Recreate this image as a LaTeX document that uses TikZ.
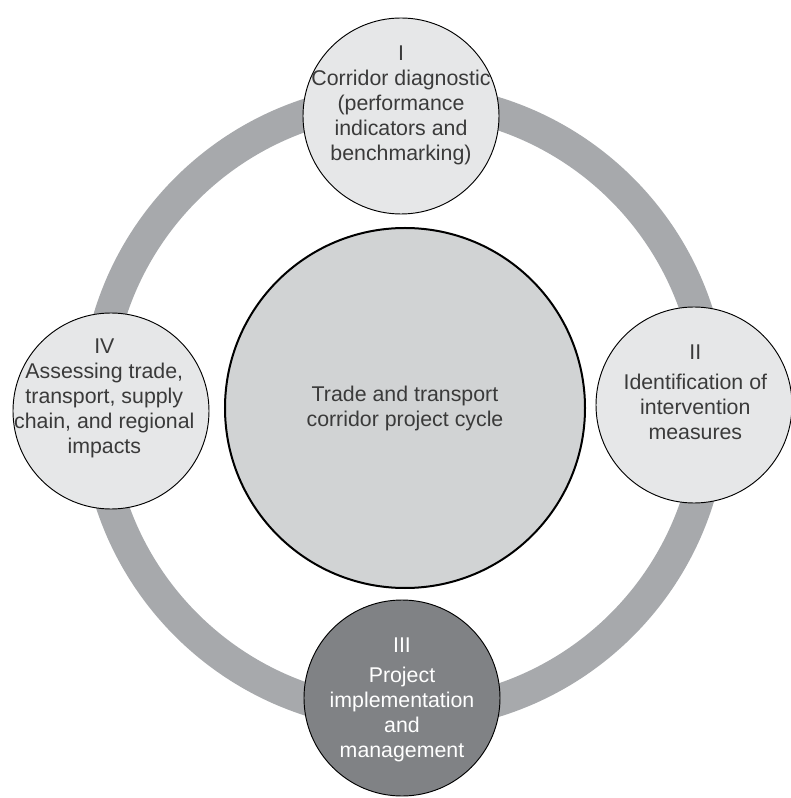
\documentclass[tikz,border=0pt]{standalone}
\usepackage{fontspec}
\setmainfont{Liberation Sans}
\usetikzlibrary{positioning}
\definecolor{ringgray}{HTML}{A7A9AC}
\definecolor{hubgray}{HTML}{D1D3D4}
\definecolor{stagegray}{HTML}{E6E7E8}
\definecolor{darkstage}{HTML}{808285}
\definecolor{inkgray}{HTML}{3A3A3A}

\begin{document}
\begin{tikzpicture}[x=0.75pt, y=0.75pt]
\tikzstyle{stage}=[circle, minimum size = 147pt, inner sep = 0pt, draw = black, line width = 0.7pt, fill = stagegray]
\tikzstyle{words}=[align = center, inner sep = 0pt, text = inkgray, font = \fontsize{16}{18.75}\selectfont]
\tikzstyle{ring}=[draw = ringgray, line width = 24pt]
\useasboundingbox (-404,-391) rectangle (386,407);
\coordinate (mid) at (0,0);
\draw[ring] (mid) circle (308);
\node[stage, minimum size = 270pt, line width = 1.5pt, fill = hubgray] (hub) at (1,-1) {};
\node[words] (hub-t) at (hub.center) {Trade and transport\\corridor project cycle};
\node[stage] (diag) at (-3,291) {};
\node[words] (diag-t) at ([yshift=8.25pt]diag.center) {I\\Corridor diagnostic\\(performance\\indicators and\\benchmarking)};
\node[stage] (ident) at (290,2) {};
\node[words] (ident-t) at ([yshift=9.75pt, xshift=1pt]ident.center) {II\\[4pt]Identification of\\intervention\\measures};
\node[stage, fill = darkstage] (impl) at (-2,-291) {};
\node[words, text = white] (impl-t) at ([yshift=-1.5pt]impl.center) {III\\[4pt]Project\\implementation\\and\\management};
\node[stage] (assess) at (-293,-4) {};
\node[words] (assess-t) at ([yshift=9.75pt, xshift=-5pt]assess.center) {IV\\Assessing trade,\\transport, supply\\chain, and regional\\impacts};
\end{tikzpicture}
\end{document}
